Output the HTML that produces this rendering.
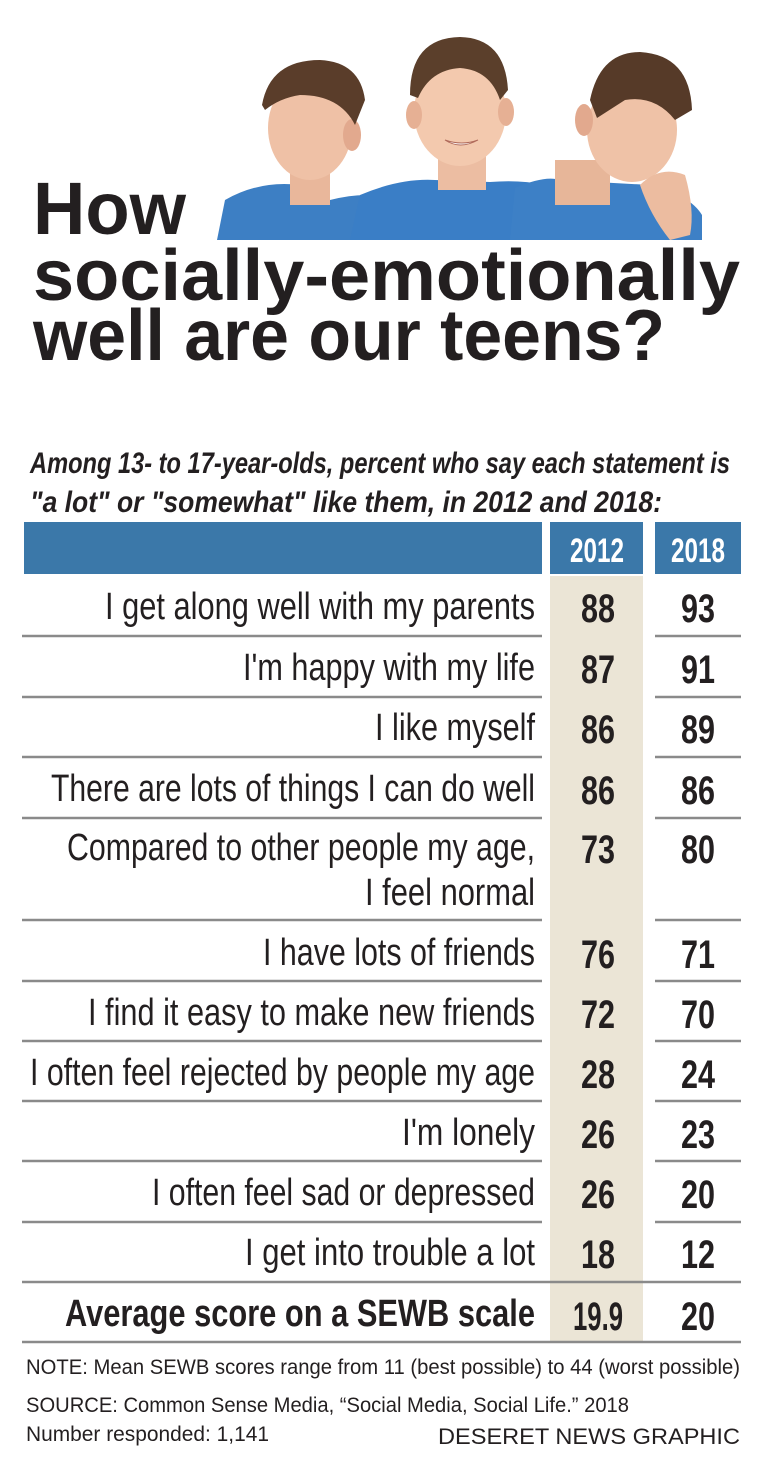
<!DOCTYPE html>
<html><head><meta charset="utf-8"><style>
html,body{margin:0;padding:0;background:#fff;width:768px;height:1472px;overflow:hidden}
svg{display:block}
.c{font-family:"Liberation Sans Narrow","Liberation Sans",sans-serif}
</style></head><body>
<svg width="768" height="1472" viewBox="0 0 768 1472" xmlns="http://www.w3.org/2000/svg">
<rect width="768" height="1472" fill="#fff"/>
<g>
 <path d="M217 240 L225 200 Q260 180 300 185 L330 200 Q370 190 393 200 L393 240Z" fill="#3d7fc4"/>
 <rect x="290" y="160" width="40" height="45" fill="#e9b79b"/>
 <ellipse cx="310" cy="128" rx="42" ry="52" fill="#efc1a6"/>
 <ellipse cx="352" cy="135" rx="9" ry="16" fill="#e2a98e"/>
 <path d="M262 105 Q270 60 320 60 Q360 62 365 100 L355 125 Q340 95 300 95 Q280 98 265 110Z" fill="#5a3d2a"/>
 <path d="M350 240 L360 195 Q400 178 435 180 L490 182 Q540 178 575 195 L583 240Z" fill="#3a7ec6"/>
 <rect x="438" y="150" width="48" height="40" fill="#ecbda2"/>
 <ellipse cx="460" cy="112" rx="46" ry="54" fill="#f3c9ae"/>
 <ellipse cx="414" cy="115" rx="8" ry="14" fill="#e6b094"/>
 <ellipse cx="506" cy="112" rx="8" ry="14" fill="#e6b094"/>
 <path d="M410 95 Q410 38 460 37 Q505 38 508 90 L500 100 Q490 70 460 68 Q430 70 418 98Z" fill="#5b3f2b"/>
 <path d="M445 140 Q460 150 478 140 Q462 146 445 140Z" fill="#fff" stroke="#b06a5a"/>
 <path d="M510 240 L515 188 Q545 175 560 180 L650 185 Q690 195 702 215 L702 240Z" fill="#3d80c6"/>
 <rect x="555" y="160" width="55" height="45" fill="#e7b699"/>
 <ellipse cx="632" cy="130" rx="45" ry="52" fill="#efc2a7"/>
 <ellipse cx="584" cy="120" rx="9" ry="16" fill="#e2a98e"/>
 <path d="M590 100 Q600 52 640 52 Q690 55 692 110 L675 120 Q655 95 625 100 L597 118Z" fill="#563a28"/>
 <path d="M640 185 Q660 165 685 175 Q695 210 690 235 L670 240 Q650 215 640 185Z" fill="#ecbca0"/>
</g>
<g font-family="'Liberation Sans',sans-serif" font-weight="bold" fill="#231f20">
 <text x="33" y="234" font-size="74" textLength="153" lengthAdjust="spacingAndGlyphs">How</text>
 <text x="33" y="300" font-size="72" textLength="707" lengthAdjust="spacingAndGlyphs">socially-emotionally</text>
 <text x="33" y="360" font-size="72" textLength="632" lengthAdjust="spacingAndGlyphs">well are our teens?</text>
</g>
<g class="c" font-style="italic" font-weight="bold" font-size="30" fill="#231f20">
 <text x="30" y="473" textLength="700" lengthAdjust="spacingAndGlyphs">Among 13- to 17-year-olds, percent who say each statement is</text>
 <text x="30" y="512" textLength="632" lengthAdjust="spacingAndGlyphs">"a lot" or "somewhat" like them, in 2012 and 2018:</text>
</g>
<rect x="24" y="522" width="518" height="52" fill="#3b78a9"/>
<rect x="550" y="522" width="93" height="52" fill="#3b78a9"/>
<rect x="655" y="522" width="86" height="52" fill="#3b78a9"/>
<g class="c" font-size="34" font-weight="bold" fill="#fff" text-anchor="middle">
 <text x="597" y="562" textLength="54" lengthAdjust="spacingAndGlyphs">2012</text>
 <text x="698" y="562" textLength="54" lengthAdjust="spacingAndGlyphs">2018</text>
</g>
<rect x="550" y="576" width="93" height="766" fill="#ebe5d6"/>
<g stroke="#8a8a8a" stroke-width="2.5">
 <line x1="22" y1="636" x2="542" y2="636"/><line x1="655" y1="636" x2="741" y2="636"/>
 <line x1="22" y1="697" x2="542" y2="697"/><line x1="655" y1="697" x2="741" y2="697"/>
 <line x1="22" y1="757" x2="542" y2="757"/><line x1="655" y1="757" x2="741" y2="757"/>
 <line x1="22" y1="818" x2="542" y2="818"/><line x1="655" y1="818" x2="741" y2="818"/>
 <line x1="22" y1="920" x2="542" y2="920"/><line x1="655" y1="920" x2="741" y2="920"/>
 <line x1="22" y1="981" x2="542" y2="981"/><line x1="655" y1="981" x2="741" y2="981"/>
 <line x1="22" y1="1041" x2="542" y2="1041"/><line x1="655" y1="1041" x2="741" y2="1041"/>
 <line x1="22" y1="1101" x2="542" y2="1101"/><line x1="655" y1="1101" x2="741" y2="1101"/>
 <line x1="22" y1="1161" x2="542" y2="1161"/><line x1="655" y1="1161" x2="741" y2="1161"/>
 <line x1="22" y1="1222" x2="542" y2="1222"/><line x1="655" y1="1222" x2="741" y2="1222"/>
 <line x1="22" y1="1282" x2="741" y2="1282"/>
 <line x1="22" y1="1342" x2="741" y2="1342"/>
</g>
<g class="c" font-size="38" fill="#231f20" text-anchor="end">
 <text x="535" y="619" textLength="430" lengthAdjust="spacingAndGlyphs">I get along well with my parents</text>
 <text x="535" y="680" textLength="292" lengthAdjust="spacingAndGlyphs">I'm happy with my life</text>
 <text x="535" y="740" textLength="160" lengthAdjust="spacingAndGlyphs">I like myself</text>
 <text x="535" y="801" textLength="484" lengthAdjust="spacingAndGlyphs">There are lots of things I can do well</text>
 <text x="535" y="860" textLength="468" lengthAdjust="spacingAndGlyphs">Compared to other people my age,</text>
 <text x="535" y="905" textLength="170" lengthAdjust="spacingAndGlyphs">I feel normal</text>
 <text x="535" y="965" textLength="272" lengthAdjust="spacingAndGlyphs">I have lots of friends</text>
 <text x="535" y="1025" textLength="447" lengthAdjust="spacingAndGlyphs">I find it easy to make new friends</text>
 <text x="535" y="1085" textLength="505" lengthAdjust="spacingAndGlyphs">I often feel rejected by people my age</text>
 <text x="535" y="1145" textLength="133" lengthAdjust="spacingAndGlyphs">I'm lonely</text>
 <text x="535" y="1205" textLength="383" lengthAdjust="spacingAndGlyphs">I often feel sad or depressed</text>
 <text x="535" y="1265" textLength="290" lengthAdjust="spacingAndGlyphs">I get into trouble a lot</text>
 <text x="535" y="1326" font-weight="bold" textLength="470" lengthAdjust="spacingAndGlyphs">Average score on a SEWB scale</text>
</g>
<g class="c" font-size="40" font-weight="bold" fill="#231f20" text-anchor="middle" lengthAdjust="spacingAndGlyphs">
 <text x="598" y="622" textLength="34" lengthAdjust="spacingAndGlyphs">88</text><text x="698" y="622" textLength="34" lengthAdjust="spacingAndGlyphs">93</text>
 <text x="598" y="683" textLength="34" lengthAdjust="spacingAndGlyphs">87</text><text x="698" y="683" textLength="34" lengthAdjust="spacingAndGlyphs">91</text>
 <text x="598" y="743" textLength="34" lengthAdjust="spacingAndGlyphs">86</text><text x="698" y="743" textLength="34" lengthAdjust="spacingAndGlyphs">89</text>
 <text x="598" y="804" textLength="34" lengthAdjust="spacingAndGlyphs">86</text><text x="698" y="804" textLength="34" lengthAdjust="spacingAndGlyphs">86</text>
 <text x="598" y="863" textLength="34" lengthAdjust="spacingAndGlyphs">73</text><text x="698" y="863" textLength="34" lengthAdjust="spacingAndGlyphs">80</text>
 <text x="598" y="968" textLength="34" lengthAdjust="spacingAndGlyphs">76</text><text x="698" y="968" textLength="34" lengthAdjust="spacingAndGlyphs">71</text>
 <text x="598" y="1028" textLength="34" lengthAdjust="spacingAndGlyphs">72</text><text x="698" y="1028" textLength="34" lengthAdjust="spacingAndGlyphs">70</text>
 <text x="598" y="1088" textLength="34" lengthAdjust="spacingAndGlyphs">28</text><text x="698" y="1088" textLength="34" lengthAdjust="spacingAndGlyphs">24</text>
 <text x="598" y="1148" textLength="34" lengthAdjust="spacingAndGlyphs">26</text><text x="698" y="1148" textLength="34" lengthAdjust="spacingAndGlyphs">23</text>
 <text x="598" y="1208" textLength="34" lengthAdjust="spacingAndGlyphs">26</text><text x="698" y="1208" textLength="34" lengthAdjust="spacingAndGlyphs">20</text>
 <text x="598" y="1268" textLength="34" lengthAdjust="spacingAndGlyphs">18</text><text x="698" y="1268" textLength="34" lengthAdjust="spacingAndGlyphs">12</text>
 <text x="598" y="1330" textLength="50" lengthAdjust="spacingAndGlyphs">19.9</text><text x="698" y="1330" textLength="34" lengthAdjust="spacingAndGlyphs">20</text>
</g>
<g class="c" font-size="21" fill="#231f20">
 <text x="26" y="1374" textLength="714" lengthAdjust="spacingAndGlyphs">NOTE: Mean SEWB scores range from 11 (best possible) to 44 (worst possible)</text>
 <text x="26" y="1412" textLength="603" lengthAdjust="spacingAndGlyphs">SOURCE: Common Sense Media, “Social Media, Social Life.” 2018</text>
 <text x="26" y="1441" textLength="243" lengthAdjust="spacingAndGlyphs">Number responded: 1,141</text>
</g>
<text x="740" y="1444" font-family="'Liberation Sans',sans-serif" font-size="22" fill="#231f20" text-anchor="end" textLength="302" lengthAdjust="spacingAndGlyphs">DESERET NEWS GRAPHIC</text>
</svg>
</body></html>
